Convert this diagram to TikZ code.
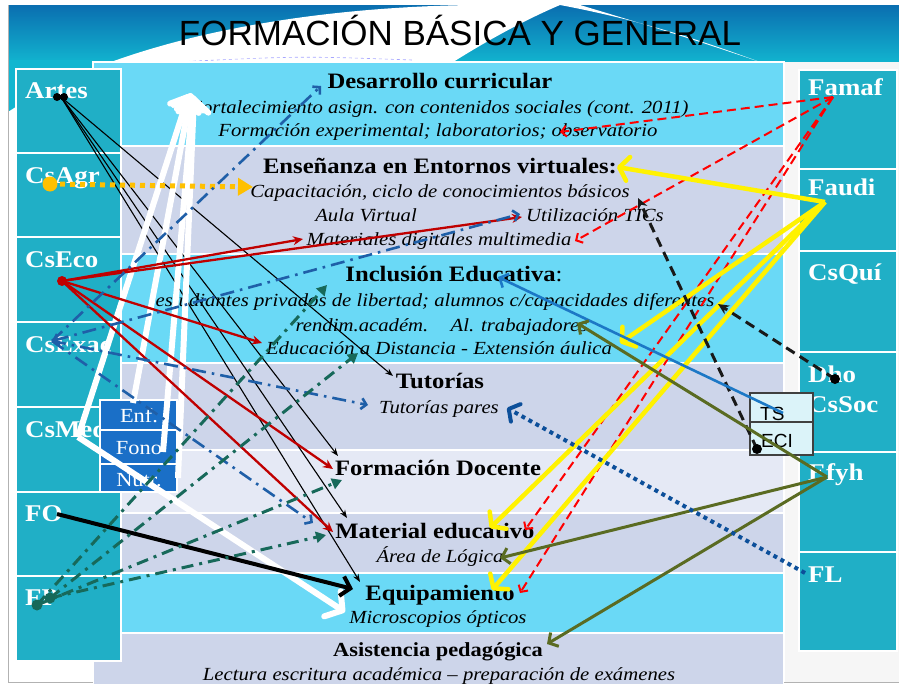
\documentclass[tikz,border=0pt]{standalone}
\usepackage{fontspec}
\setmainfont{Liberation Serif}[FakeStretch=1.12]
\newfontfamily\sansf{Liberation Sans}
\usetikzlibrary{arrows.meta}
\definecolor{bandC}{HTML}{6AD9F6}
\definecolor{bandL}{HTML}{CDD5EA}
\definecolor{bandW}{HTML}{E5E9F5}
\definecolor{tealbox}{HTML}{20AFC6}
\definecolor{bluebox}{HTML}{1A6FC7}
\definecolor{tsfill}{HTML}{DBF3F9}
\definecolor{redA}{HTML}{C00000}
\definecolor{blueA}{HTML}{1F5FA8}
\definecolor{blueB}{HTML}{0C4F9A}
\definecolor{blueC}{HTML}{1C78C6}
\definecolor{greenA}{HTML}{17695A}
\definecolor{oliveA}{HTML}{5A6B22}
\definecolor{orangeA}{HTML}{FFC000}
\definecolor{hdrTop}{HTML}{0A6EB0}
\definecolor{hdrBot}{HTML}{12B6D0}
\tikzset{
  band/.style={draw=white, line width=1.5pt},
  lbox/.style={draw=white, line width=1.8pt, fill=tealbox, anchor=north west, inner sep=0pt, outer sep=0pt},
  sbox/.style={draw=white, line width=1.5pt, fill=bluebox, anchor=north west, inner sep=0pt, outer sep=0pt, minimum width=77pt},
  tbox/.style={draw=black!75, line width=1.2pt, fill=tsfill, anchor=north west, inner sep=0pt, outer sep=0pt, minimum width=63pt},
  hd/.style={font=\bfseries\fontsize{22}{24}\selectfont, anchor=base, inner sep=0pt},
  hds/.style={font=\bfseries\fontsize{20}{22}\selectfont, anchor=base, inner sep=0pt},
  it/.style={font=\itshape\fontsize{18.5}{21}\selectfont, anchor=base, inner sep=0pt},
  lbl/.style={font=\bfseries\fontsize{24}{26}\selectfont, text=white, anchor=base west, inner sep=0pt},
  sml/.style={font=\fontsize{20}{22}\selectfont, text=white, anchor=base, inner sep=0pt},
  tst/.style={font=\sansf\fontsize{19}{21}\selectfont, anchor=base west, inner sep=0pt},
  blk/.style={draw=black, line width=1.1pt, -{Stealth[length=8pt,width=6pt]}},
  wht/.style={draw=white, line width=6pt, -{Straight Barb[round,length=12pt,width=30pt]}},
  rdl/.style={draw=redA, line width=2.3pt, -{Stealth[length=10pt,width=9pt]}},
  bdd/.style={draw=blueA, line width=2.6pt, dash pattern=on 14pt off 6pt on 2.6pt off 6pt, -{Straight Barb[length=5pt,width=11pt]}},
  gdd/.style={draw=greenA, line width=3pt, dash pattern=on 12pt off 6pt on 3pt off 6pt, -{Triangle[length=10pt,width=11pt]}},
  ord/.style={draw=orangeA, line width=5pt, dash pattern=on 5pt off 5pt, -{Triangle[length=15pt,width=17pt]}},
  fol/.style={draw=black, line width=4pt, -{Straight Barb[length=9pt,width=20pt]}},
  rdd/.style={draw=red, line width=2pt, dash pattern=on 9pt off 5pt, -{Straight Barb[length=5pt,width=11pt]}},
  ylw/.style={draw=yellow, line width=4.5pt, -{Straight Barb[round,length=9pt,width=24pt]}},
  bkd/.style={draw=black!90, line width=3pt, dash pattern=on 10pt off 6pt, -{Stealth[length=11pt,width=10pt]}},
  tsl/.style={draw=blueC, line width=2.6pt, -{Straight Barb[length=7pt,width=15pt]}},
  olv/.style={draw=oliveA, line width=3pt, -{Straight Barb[length=7pt,width=16pt]}},
  fld/.style={draw=blueB, line width=4pt, dash pattern=on 4pt off 4pt, -{Straight Barb[round,length=8pt,width=20pt]}},
}
\begin{document}
\begin{tikzpicture}[x=1pt,y=-1pt]
\useasboundingbox (0,0) rectangle (899,683);
\fill[white] (0,0) rectangle (899,683);
% header
\fill[top color=hdrTop,bottom color=hdrBot] (8,5) rectangle (899,64);
\fill[hdrBot] (8,60) rectangle (93,112);
\fill[white] (8,112) .. controls (110,45) and (280,8) .. (470,5) -- (560,5) .. controls (520,22) and (480,45) .. (450,64) -- (93,64) -- (93,120) -- (8,120) -- cycle;
\fill[white] (560,5) .. controls (640,20) and (700,40) .. (760,62) .. controls (690,38) and (630,20) .. (580,5) -- cycle;
\draw[blue!35, dashed, line width=0.6pt] (175,62) .. controls (300,56) .. (412,60);
\fill[gray!7] (784,62) rectangle (899,683);
% bands
\path[band, fill=bandC] (93,62) rectangle (784,146);
\path[band, fill=bandL] (93,146) rectangle (784,254);
\path[band, fill=bandC] (93,254) rectangle (784,363);
\path[band, fill=bandL] (93,363) rectangle (784,450);
\path[band, fill=bandW] (93,450) rectangle (784,513);
\path[band, fill=bandL] (93,513) rectangle (784,573);
\path[band, fill=bandC] (93,573) rectangle (784,633);
\path[band, fill=bandL] (93,633) rectangle (784,692);
\draw[gray!60, line width=0.8pt] (8,5) -- (8,682) -- (93,682);
\draw[gray!60, line width=0.8pt] (784,682) -- (899,682);
% title
\node[font=\sansf\fontsize{35}{40}\selectfont, anchor=base, inner sep=0pt] (title) at (460,45) {FORMACIÓN BÁSICA Y GENERAL};
% left boxes
\node[lbox, minimum width=105pt, minimum height=84pt] (bArtes) at (16,69) {};
\node[lbox, minimum width=105pt, minimum height=84pt] (bCsAgr) at (16,153) {};
\node[lbox, minimum width=105pt, minimum height=85pt] (bCsEco) at (16,237) {};
\node[lbox, minimum width=105pt, minimum height=85pt] (bCsExac) at (16,322) {};
\node[lbox, minimum width=105pt, minimum height=85pt] (bCsMed) at (16,407) {};
\node[lbox, minimum width=105pt, minimum height=84pt] (bFO) at (16,492) {};
\node[lbox, minimum width=105pt, minimum height=85pt] (bFP) at (16,576) {};
\node[lbl] (lArtes) at (25,98) {Artes};
\node[lbl] (lCsAgr) at (25,183) {CsAgr};
\node[lbl] (lCsEco) at (25,267) {CsEco};
\node[lbl] (lCsExac) at (25,352) {CsExac};
\node[lbl] (lCsMed) at (25,437) {CsMed};
\node[lbl] (lFO) at (25,521) {FO};
\node[lbl] (lFP) at (25,605) {FP};
% right boxes
\node[lbox, minimum width=98pt, minimum height=99pt] (bFamaf) at (799,70) {};
\node[lbox, minimum width=98pt, minimum height=82pt] (bFaudi) at (799,169) {};
\node[lbox, minimum width=98pt, minimum height=101pt] (bCsQui) at (799,251) {};
\node[lbox, minimum width=98pt, minimum height=100pt] (bDho) at (799,352) {};
\node[lbox, minimum width=98pt, minimum height=100pt] (bEfyh) at (799,452) {};
\node[lbox, minimum width=98pt, minimum height=99pt] (bFL) at (799,552) {};
\node[lbl] (lFamaf) at (808,95) {Famaf};
\node[lbl] (lFaudi) at (808,195) {Faudi};
\node[lbl] (lCsQui) at (808,280) {CsQuí};
\node[lbl] (lDho) at (808,382) {Dho};
\node[lbl] (lCsSoc) at (808,412) {CsSoc};
\node[lbl] (lEfyh) at (808,480) {Efyh};
\node[lbl] (lFL) at (808,582) {FL};
% small boxes
\node[sbox, minimum height=30pt] (bEnf) at (100,400) {};
\node[sbox, minimum height=34pt] (bFono) at (100,430) {};
\node[sbox, minimum height=28pt] (bNutr) at (100,464) {};
\node[sml] (lEnf) at (139,422) {Enf.};
\node[sml] (lFono) at (139,454) {Fono};
\node[sml] (lNutr) at (139,486) {Nutr.};
\node[tbox, minimum height=29pt] (bTS) at (750,393) {};
\node[tbox, minimum height=33pt] (bECI) at (750,422) {};
\node[tst] (lTS) at (760,420) {TS};
\node[tst] (lECI) at (761,447) {ECI};
% band texts
\node[hd] (t1) at (440,88) {Desarrollo curricular};
\node[it] (t2) at (439,113) {Fortalecimiento asign. con contenidos sociales (cont. 2011)};
\node[it] (t3) at (438,136) {Formación experimental; laboratorios; observatorio};
\node[hd] (t4) at (440,173) {Enseñanza en Entornos virtuales:};
\node[it] (t5) at (440,197) {Capacitación, ciclo de conocimientos básicos};
\node[it] (t6a) at (366,221) {Aula Virtual};
\node[it] (t6b) at (595,221) {Utilización TICs};
\node[it] (t7) at (439,245) {Materiales digitales multimedia};
\node[hd] (t8) at (454,281) {Inclusión Educativa\mdseries:};
\node[it] (t9) at (435,306) {estudiantes privados de libertad; alumnos c/capacidades diferentes};
\node[it] (t10a) at (362,331) {rendim.académ.};
\node[it] (t10b) at (519,331) {Al. trabajadores};
\node[it] (t11) at (439,354) {Educación a Distancia - Extensión áulica};
\node[hd] (t12) at (440,388) {Tutorías};
\node[it] (t13) at (439,413) {Tutorías pares};
\node[hd] (t14) at (438,475) {Formación Docente};
\node[hd] (t15) at (438,538) {Material educativo.};
\node[it] (t16) at (440,562) {Área de Lógica};
\node[hd] (t17) at (440,600) {Equipamiento};
\node[it] (t18) at (438,623) {Microscopios ópticos};
\node[hds] (t19) at (438,656) {Asistencia pedagógica};
\node[it] (t20) at (439,680) {Lectura escritura académica – preparación de exámenes};
% connector end points
\coordinate (sArtes) at (61,97);
\coordinate (sCsAgr) at (50,184);
\coordinate (sCsEco) at (62,281);
\coordinate (sCsExac) at (52,341);
\coordinate (sCsMed) at (78,437);
\coordinate (sEnf) at (133,403);
\coordinate (sFono) at (163,452);
\coordinate (sNutr) at (178,478);
\coordinate (sFO) at (57,514);
\coordinate (sFPa) at (37,605);
\coordinate (sFPb) at (50,598);
\coordinate (sFamaf) at (833,97);
\coordinate (sFaudi) at (825,202);
\coordinate (sDho) at (835,379);
\coordinate (sECI) at (757,449);
\coordinate (sTS) at (783,413);
\coordinate (sEfyh) at (827,477);
\coordinate (sFL) at (805,573);
\coordinate (eTut1) at (393,376);
\coordinate (eFD1) at (338,456);
\coordinate (eMat1) at (347,518);
\coordinate (eEq1) at (360,582);
\coordinate (eCap) at (253,187);
\coordinate (eMm1) at (303,239);
\coordinate (eTic1) at (522,217);
\coordinate (eEd1) at (262,343);
\coordinate (eFD2) at (333,469);
\coordinate (eMat2) at (333,532);
\coordinate (eDes1) at (321,86);
\coordinate (eTic2) at (520,214);
\coordinate (eTp1) at (368,405);
\coordinate (eMat3) at (313,523);
\coordinate (eW1) at (189,94);
\coordinate (eW2) at (191,93);
\coordinate (eW3) at (193,95);
\coordinate (eW4) at (194,97);
\coordinate (eEq2) at (345,612);
\coordinate (eEq3) at (353,589);
\coordinate (eInc1) at (327,285);
\coordinate (eEd2) at (358,353);
\coordinate (eFD3) at (342,480);
\coordinate (eMat4) at (326,535);
\coordinate (eObs) at (560,132);
\coordinate (eMm2) at (575,241);
\coordinate (eMat5) at (525,530);
\coordinate (eEq4) at (520,593);
\coordinate (eEns) at (617,167);
\coordinate (eEd3) at (620,343);
\coordinate (eMat6) at (490,528);
\coordinate (eEq5) at (492,590);
\coordinate (eDif) at (718,304);
\coordinate (eCap2) at (638,198);
\coordinate (eInc2) at (498,277);
\coordinate (eTrab) at (577,323);
\coordinate (eLog) at (500,558);
\coordinate (eAsis) at (547,644);
\coordinate (eTp2) at (507,408);
% connectors
\draw[blk] (sArtes) -- (eTut1);
\draw[blk] (sArtes) -- (eFD1);
\draw[blk] (sArtes) -- (eMat1);
\draw[blk] (sArtes) -- (eEq1);
\draw[wht] (sCsMed) -- (eW1);
\draw[wht] (sEnf) -- (eW2);
\draw[wht] (sFono) -- (eW3);
\draw[wht] (sNutr) -- (eW4);
\draw[wht] (sCsMed) -- (eEq2);
\draw[ord] (sCsAgr) -- (eCap);
\draw[rdl] (sCsEco) -- (eMm1);
\draw[rdl] (sCsEco) -- (eTic1);
\draw[rdl] (sCsEco) -- (eEd1);
\draw[rdl] (sCsEco) -- (eFD2);
\draw[rdl] (sCsEco) -- (eMat2);
\draw[bdd] (sCsExac) -- (eDes1);
\draw[bdd, {Straight Barb[length=5pt,width=11pt]}-{Straight Barb[length=5pt,width=11pt]}] (sCsExac) -- (eTic2);
\draw[bdd] (sCsExac) -- (eTp1);
\draw[bdd] (sCsExac) -- (eMat3);
\draw[fol] (sFO) -- (eEq3);
\draw[gdd] (sFPa) -- (eInc1);
\draw[gdd] (sFPb) -- (eEd2);
\draw[gdd] (sFPa) -- (eFD3);
\draw[gdd] (sFPb) -- (eMat4);
\draw[rdd] (sFamaf) -- (eObs);
\draw[rdd] (sFamaf) -- (eMm2);
\draw[rdd] (sFamaf) -- (eMat5);
\draw[rdd] (sFamaf) -- (eEq4);
\draw[ylw] (sFaudi) -- (eEns);
\draw[ylw] (sFaudi) -- (eEd3);
\draw[ylw] (sFaudi) -- (eMat6);
\draw[ylw] (sFaudi) -- (eEq5);
\draw[bkd] (sDho) -- (eDif);
\draw[bkd] (sECI) -- (eCap2);
\draw[tsl] (sTS) -- (eInc2);
\draw[olv] (sEfyh) -- (eTrab);
\draw[olv] (sEfyh) -- (eLog);
\draw[olv] (sEfyh) -- (eAsis);
\draw[fld] (sFL) -- (eTp2);
% dots
\fill[black] (57,97) circle (4pt) (64,97) circle (4pt);
\fill[orangeA] (sCsAgr) circle (7.5pt);
\fill[redA] (sCsEco) circle (5pt);
\fill[greenA] (sFPa) circle (5.5pt) (sFPb) circle (5.5pt);
\fill[black] (sDho) circle (5pt);
\fill[black] (sECI) circle (5pt);
\end{tikzpicture}
\end{document}
